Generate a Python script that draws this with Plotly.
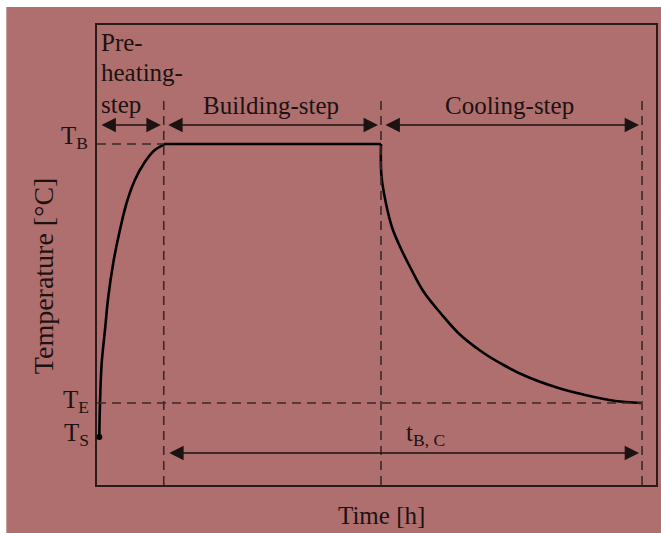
import plotly.graph_objects as go

# ---------------- data (arbitrary time / temperature units) ----------------
phase_names = ["Pre-heating-step", "Building-step", "Cooling-step"]
phase_bounds = [0, 67, 285, 547]          # time where each step starts / ends

T_B = 341   # building temperature
T_E = 82    # end temperature
T_S = 48    # start temperature

heat_time = [2.3, 3, 4.7, 8, 11.3, 16.3, 23, 29.7, 38, 48, 58, 66.3, 67]
heat_temp = [48, 82, 122, 155, 188, 222, 255, 282, 305, 323, 335, 340, 341]

build_time = [67, 285]
build_temp = [341, 341]

cool_time = [285, 285.4, 289.7, 296.3, 304.7, 314.7, 328, 344.7, 364.7, 388,
             408, 430, 460, 490, 520, 546]
cool_temp = [341, 310, 283, 257, 237, 217, 193, 172, 150, 132,
             120, 109, 98, 90, 84, 82]

x_range = [0, 561]
y_range = [0, 460]

# ---------------- styling ----------------
BG = "rgb(175,111,110)"
INK = "#1c1212"
DASH = "#3a2a2a"
FONT = "Liberation Serif"
FS = 25

W, H = 661, 533
ML, MR, MT, MB = 97, 3, 25, 48


def px2x(p):
    return (p - ML) / (W - ML - MR)


def py2y(p):
    return (H - MB - p) / (H - MT - MB)


fig = go.Figure()

curve_line = dict(color="black", width=2.6)
fig.add_trace(go.Scatter(x=heat_time, y=heat_temp, mode="lines",
                         line=dict(curve_line, shape="spline", smoothing=1.0),
                         showlegend=False, hoverinfo="skip"))
fig.add_trace(go.Scatter(x=build_time, y=build_temp, mode="lines",
                         line=curve_line, showlegend=False, hoverinfo="skip"))
fig.add_trace(go.Scatter(x=cool_time, y=cool_temp, mode="lines",
                         line=dict(curve_line, shape="spline", smoothing=1.0),
                         showlegend=False, hoverinfo="skip"))
fig.add_trace(go.Scatter(x=[heat_time[0]], y=[heat_temp[0]], mode="markers",
                         marker=dict(color="black", size=6),
                         showlegend=False, hoverinfo="skip"))

shapes = []
# white strips at the top and left of the picture
shapes.append(dict(type="rect", xref="paper", yref="paper",
                   x0=px2x(-5), x1=px2x(6), y0=py2y(540), y1=py2y(-5),
                   fillcolor="white", line=dict(width=0), layer="above"))
shapes.append(dict(type="rect", xref="paper", yref="paper",
                   x0=px2x(-5), x1=px2x(670), y0=py2y(7), y1=py2y(-5),
                   fillcolor="white", line=dict(width=0), layer="above"))

dash_top = 390
for b in phase_bounds[1:]:
    shapes.append(dict(type="line", xref="x", yref="y", x0=b, x1=b,
                       y0=0, y1=dash_top,
                       line=dict(color=DASH, width=1.6, dash="9px,6px")))
shapes.append(dict(type="line", xref="x", yref="y", x0=0, x1=phase_bounds[1],
                   y0=T_B, y1=T_B,
                   line=dict(color=DASH, width=1.6, dash="9px,6px")))
shapes.append(dict(type="line", xref="x", yref="y", x0=0, x1=cool_time[-1],
                   y0=T_E, y1=T_E,
                   line=dict(color=DASH, width=1.6, dash="9px,6px")))

annotations = []
arrow_y = 360
gap = 3
for i in range(3):
    annotations.append(dict(x=phase_bounds[i + 1] - gap, y=arrow_y,
                            ax=phase_bounds[i] + gap, ay=arrow_y,
                            xref="x", yref="y", axref="x", ayref="y",
                            text="", showarrow=True, arrowhead=2,
                            arrowside="end+start", arrowsize=1.8,
                            arrowwidth=1.6, arrowcolor=INK, standoff=0,
                            startstandoff=0))
annotations.append(dict(x=phase_bounds[3] - gap, y=32,
                        ax=phase_bounds[1] + gap + 1, ay=32,
                        xref="x", yref="y", axref="x", ayref="y",
                        text="", showarrow=True, arrowhead=2,
                        arrowside="end+start", arrowsize=1.8,
                        arrowwidth=1.6, arrowcolor=INK, standoff=0,
                        startstandoff=0))


def label(text, xp, yp, xanchor="center", size=FS, angle=0):
    annotations.append(dict(text=text, x=px2x(xp), y=py2y(yp), xref="paper",
                            yref="paper", showarrow=False, xanchor=xanchor,
                            yanchor="middle", textangle=angle,
                            font=dict(family=FONT, size=size, color=INK)))


label("Pre-", 99, 42, "left")
label("heating-", 99, 73, "left")
label("step", 99, 104, "left")
label("Building-step", 272, 105)
label("Cooling-step", 511, 106)
label("T<sub>B</sub>", 90, 137, "right")
label("T<sub>E</sub>", 91, 401, "right")
label("T<sub>S</sub>", 91, 434, "right")
label("t<sub>B, C</sub>", 405, 434, "left")
label("Time [h]", 383, 515)
label("Temperature [°C]", 43, 276, size=28, angle=-90)

fig.update_layout(
    width=W, height=H,
    margin=dict(l=ML, r=MR, t=MT, b=MB),
    paper_bgcolor=BG, plot_bgcolor=BG,
    shapes=shapes, annotations=annotations,
    showlegend=False,
    xaxis=dict(range=x_range, showgrid=False, zeroline=False,
               showticklabels=False, ticks="", showline=True, mirror=True,
               linecolor="#2a1a1a", linewidth=2),
    yaxis=dict(range=y_range, showgrid=False, zeroline=False,
               showticklabels=False, ticks="", showline=True, mirror=True,
               linecolor="#2a1a1a", linewidth=2),
)

fig.write_html("out.html")
